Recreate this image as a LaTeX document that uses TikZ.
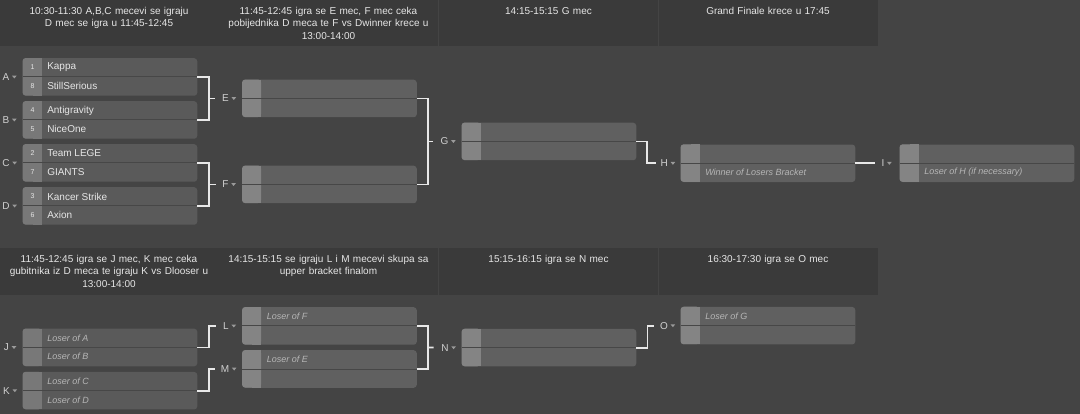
\documentclass[tikz,border=0pt]{standalone}
\usepackage{fontspec}
\setmainfont{Liberation Sans}
\usetikzlibrary{calc}
\definecolor{bg}{HTML}{444444}
\definecolor{head}{HTML}{3A3A3A}
\definecolor{rowdark}{HTML}{5A5A5A}
\definecolor{rowlite}{HTML}{606060}
\definecolor{seeddark}{HTML}{787878}
\definecolor{seedlite}{HTML}{848484}
\definecolor{split}{HTML}{474747}
\definecolor{wire}{HTML}{E8E8E8}
\definecolor{txt}{HTML}{E6E6E6}
\definecolor{ghost}{HTML}{B6B6B6}
\definecolor{tagc}{HTML}{D0D0D0}
\definecolor{tric}{HTML}{9A9A9A}

\begin{document}
\begin{tikzpicture}[x=1pt,y=-1pt,font=\fontsize{10}{12.5}\selectfont,
  match/.style={fill=#1,rounded corners=3pt,minimum width=174.5pt,minimum height=37.5pt,inner sep=0pt},
  headtxt/.style={txt,anchor=north,align=center,text width=214pt,inner sep=0pt},
  seedno/.style={txt,font=\fontsize{7}{8}\selectfont,inner sep=0pt},
  team/.style={txt,anchor=west,inner sep=0pt},
  ghosttxt/.style={ghost,anchor=west,inner sep=0pt,font=\fontsize{9}{10}\itshape},
  tag/.style={tagc,inner sep=0pt},
  wire/.style={draw=wire,line width=1.8pt}]
\useasboundingbox (0,0) rectangle (1080,414);
\fill[bg] (0,0) rectangle (1080,414);
% header bands
\foreach \x in {0,219,439,659}{
  \fill[head] (\x,0) rectangle ++(219,46.5);
  \fill[head] (\x,248) rectangle ++(219,47.5);}
\node[headtxt] (h1) at (109,7) {10:30-11:30 A,B,C mecevi se igraju\\D mec se igra u 11:45-12:45};
\node[headtxt] (h2) at (328.5,7) {11:45-12:45 igra se E mec, F mec ceka\\pobijednika D meca te F vs Dwinner krece u\\13:00-14:00};
\node[headtxt] (h3) at (548.5,7) {14:15-15:15 G mec};
\node[headtxt] (h4) at (768,7) {Grand Finale krece u 17:45};
\node[headtxt] (h5) at (109,255) {11:45-12:45 igra se J mec, K mec ceka\\gubitnika iz D meca te igraju K vs Dlooser u\\13:00-14:00};
\node[headtxt] (h6) at (328.5,255) {14:15-15:15 se igraju L i M mecevi skupa sa\\upper bracket finalom};
\node[headtxt] (h7) at (548.5,255) {15:15-16:15 igra se N mec};
\node[headtxt] (h8) at (768,255) {16:30-17:30 igra se O mec};
% match boxes
\foreach \m/\x/\y/\c in {A/110/77/dark,B/110/120/dark,C/110/163/dark,D/110/206/dark,
    E/329.5/98.5/lite,F/329.5/184.5/lite,G/549/141.5/lite,H/768/163.3/lite,I/987/163.3/lite,
    J/110/347.5/dark,K/110/390.7/dark,L/329.5/326/lite,M/329.5/369/lite,N/549/347.7/lite,O/768/325.7/lite}{
  \node[match=row\c] (\m) at (\x,\y) {};
  \fill[seed\c,rounded corners=3pt] (\m.north west) rectangle ++(19,37.5);
  \fill[seed\c] ($(\m.north west)+(10,0)$) rectangle ++(9,37.5);
  \draw[split,line width=1pt] (\m.west) -- (\m.east);}
% seeds and teams
\foreach \m/\r/\s/\t in {A/0/1/Kappa,A/1/8/StillSerious,B/0/4/Antigravity,B/1/5/NiceOne,
    C/0/2/Team LEGE,C/1/7/GIANTS,D/0/3/Kancer Strike,D/1/6/Axion}{
  \node[seedno] (\m-s\r) at ($(\m.north west)+(10,9.4+18.8*\r)$) {\s};
  \node[team] (\m-t\r) at ($(\m.north west)+(24.5,9.4+18.8*\r)$) {\t};}
\foreach \m/\r/\t in {H/1/{Winner of Losers Bracket},I/1/{Loser of H (if necessary)},
    J/0/{Loser of A},J/1/{Loser of B},K/0/{Loser of C},K/1/{Loser of D},
    L/0/{Loser of F},M/0/{Loser of E},O/0/{Loser of G}}{
  \node[ghosttxt] (\m-g\r) at ($(\m.north west)+(24.5,9.4+18.8*\r)$) {\t};}
% match letters
\foreach \l/\x/\y in {A/6/77,B/6/120,C/6/163,D/6/206,E/225.5/98.5,F/225.5/184.5,G/444.5/141.5,
    H/664.3/163.3,I/883/163.3,J/6.5/347.5,K/6.5/390.7,L/226/326,M/225/369,N/445/347.7,O/664/325.7}{
  \node[tag] (\l-tag) at (\x,\y) {\l};
  \fill[tric] ($(\l-tag.east)+(2.5,-1.3)$) -- ++(4.6,0) -- ++(-2.3,2.8) -- cycle;}
% winners side
\coordinate (jE) at (209,98.5);
\coordinate (jF) at (209,184.5);
\coordinate (jG) at (428,141.5);
\coordinate (jH) at (647,163.3);
\draw[wire] (A.east) -| (jE) |- (B.east);
\draw[wire,shorten >=7pt] (jE) -- (E-tag.west);
\draw[wire] (C.east) -| (jF) |- (D.east);
\draw[wire,shorten >=6pt] (jF) -- (F-tag.west);
\draw[wire] (E.east) -| (jG) |- (F.east);
\draw[wire,shorten >=7pt] (jG) -- (G-tag.west);
\draw[wire,shorten >=4pt] (G.east) -| (jH) -- (H-tag.west);
\draw[wire,shorten >=6.5pt] (H.east) -- (I-tag.west);
% losers side
\coordinate (jL) at (209,326);
\coordinate (jM) at (209,369);
\coordinate (jN) at (428,347.5);
\coordinate (jO) at (647.5,325.7);
\draw[wire,shorten >=7.5pt] (J.east) -| (jL) -- (L-tag.west);
\draw[wire,shorten >=6pt] (K.east) -| (jM) -- (M-tag.west);
\draw[wire] (L.east) -| (jN) |- (M.east);
\draw[wire,shorten >=7.5pt] (jN) -- (N-tag.west);
\draw[wire,shorten >=5.5pt] (N.east) -| (jO) -- (O-tag.west);
\end{tikzpicture}
\end{document}
